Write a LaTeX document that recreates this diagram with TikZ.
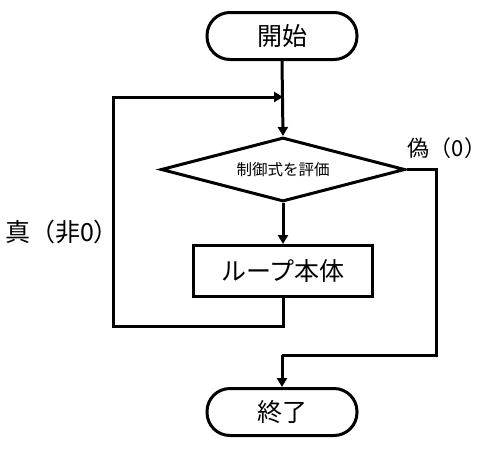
\documentclass[tikz,border=0pt]{standalone}
\usepackage{fontspec}
\setmainfont{Noto Sans CJK JP}
\usetikzlibrary{arrows.meta,shapes.geometric}
\begin{document}
\begin{tikzpicture}[x=1pt,y=-1pt,
  line width=3pt,
  term/.style={draw,rectangle,rounded corners=23pt,minimum width=150pt,minimum height=47pt,inner sep=0pt,font=\fontsize{25}{28}\selectfont},
  proc/.style={draw,rectangle,minimum width=179pt,minimum height=51pt,inner sep=0pt,font=\fontsize{25}{28}\selectfont},
  dec/.style={draw,diamond,aspect=3.77,minimum width=244pt,minimum height=64pt,inner sep=0pt,font=\fontsize{15.5}{18}\selectfont},
  lbl/.style={font=\fontsize{22}{25}\selectfont,inner sep=0pt},
  arr/.style={-{Triangle[length=9pt,width=10pt]},line width=3pt},
  ln/.style={line width=3pt}]
\useasboundingbox (0,0) rectangle (488,448);
\node[term] (start) at (282,36) {開始};
\node[dec] (cond) at (283,169.5) {制御式を評価};
\node[proc] (body) at (283,271) {ループ本体};
\node[term] (end) at (282,412) {終了};
\coordinate (merge) at (283,97);
\coordinate (lb) at (113,326);
\coordinate (lt) at (113,97);
\coordinate (rt) at (436,169.5);
\coordinate (rb) at (436,355);
\coordinate (eb) at (282,355);
\node[lbl] (f) at (447,148) {偽（0）};
\node[lbl,font=\fontsize{25}{28}\selectfont] (t) at (62,232) {真（非0）};
\draw[arr] (start.south) -- (cond.north);
\draw[arr] (cond.south) -- (body.north);
\draw[arr] (body.south) -- (283,326) -- (lb) -- (lt) -- (merge);
\draw[ln] (cond.east) -- (rt) -- (rb) -- (eb);
\draw[arr] (eb) -- (end.north);
\end{tikzpicture}
\end{document}
